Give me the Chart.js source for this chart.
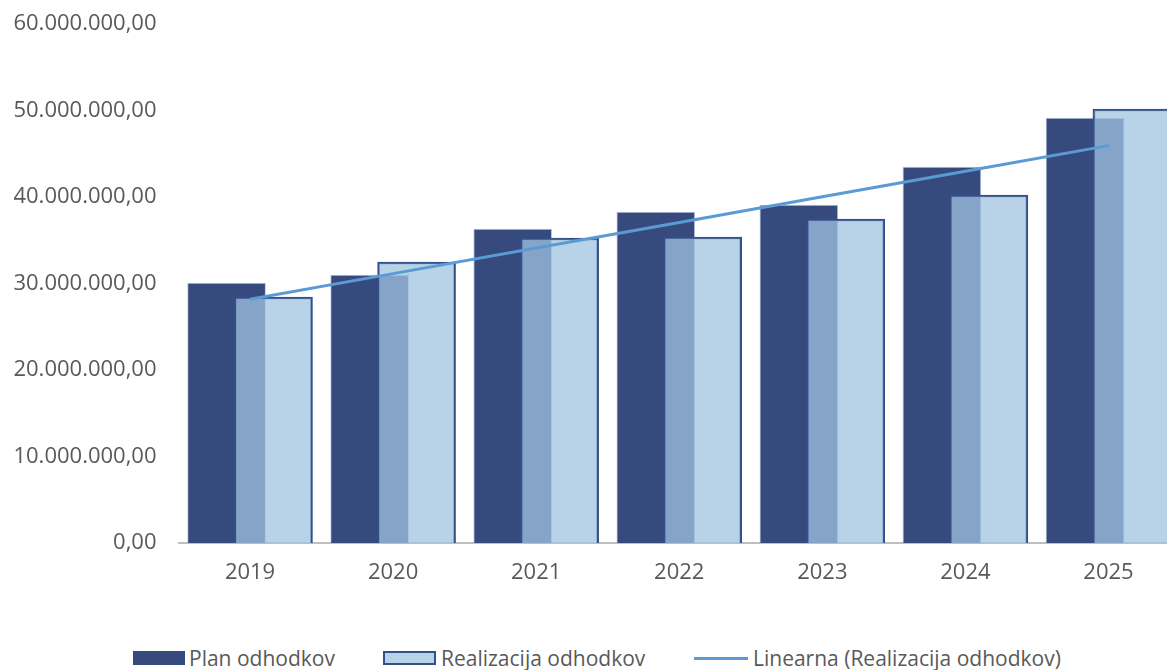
<!DOCTYPE html>
<html>
<head>
<meta charset="utf-8">
<script src="https://cdn.jsdelivr.net/npm/chart.js@4/dist/chart.umd.min.js"></script>
<style>
  html, body { margin: 0; padding: 0; background: #fff; overflow: hidden; width: 1167px; height: 670px; }
  #wrap { position: absolute; left: 0; top: 0; width: 1180px; height: 620px; }
  .leg { position: absolute; top: 645px; height: 26px; display: flex; align-items: center;
         font-family: "Open Sans", sans-serif; font-size: 21px; color: #595959; white-space: nowrap; }
  .sw { display: inline-block; box-sizing: border-box; }
</style>
</head>
<body>
<div id="wrap"><canvas id="c" width="1180" height="620"></canvas></div>
<div class="leg" style="left:133px"><span class="sw" style="width:52px;height:14px;background:#364a7e;margin-right:4px"></span>Plan odhodkov</div>
<div class="leg" style="left:383px"><span class="sw" style="width:53px;height:14px;background:#b8d2e8;border:2px solid #34508c;margin-right:5px"></span>Realizacija odhodkov</div>
<div class="leg" style="left:694px"><span class="sw" style="width:54px;height:3px;background:#5b9bd5;margin-right:5px"></span>Linearna (Realizacija odhodkov)</div>
<script>
const years = ['2019', '2020', '2021', '2022', '2023', '2024', '2025'];
const planOdhodkov = [30060000, 30980000, 36300000, 38270000, 39080000, 43470000, 49130000];
const realizacijaOdhodkov = [28440000, 32490000, 35260000, 35380000, 37460000, 40230000, 50170000];
const yTicks = [0, 10000000, 20000000, 30000000, 40000000, 50000000, 60000000];

// linear trend (least squares) of realization
const n = realizacijaOdhodkov.length;
const mx = (n - 1) / 2;
const my = realizacijaOdhodkov.reduce((a, b) => a + b, 0) / n;
let sxy = 0, sxx = 0;
realizacijaOdhodkov.forEach((v, i) => { sxy += (i - mx) * (v - my); sxx += (i - mx) * (i - mx); });
const slope = sxy / sxx;
const trend = years.map((_, i) => my + slope * (i - mx));

const OFF = 0.164;
function fmt(v) {
  const s = Math.round(v).toString().replace(/\B(?=(\d{3})+(?!\d))/g, '.');
  return s + ',00';
}

const font = { family: '"Open Sans", sans-serif', size: 22 };

new Chart(document.getElementById('c'), {
  type: 'bar',
  data: {
    datasets: [
      {
        label: 'Plan odhodkov',
        data: planOdhodkov.map((v, i) => ({ x: i - OFF, y: v })),
        backgroundColor: '#364a7e',
        borderColor: 'rgba(150,165,200,0.6)',
        borderWidth: 1,
        barThickness: 78,
        grouped: false,
        order: 2
      },
      {
        label: 'Realizacija odhodkov',
        data: realizacijaOdhodkov.map((v, i) => ({ x: i + OFF, y: v })),
        backgroundColor: 'rgba(160,195,224,0.75)',
        borderColor: '#34508c',
        borderWidth: 2,
        barThickness: 78,
        grouped: false,
        order: 1
      },
      {
        type: 'line',
        label: 'Linearna (Realizacija odhodkov)',
        data: trend.map((v, i) => ({ x: i, y: v })),
        borderColor: '#5b9bd5',
        borderWidth: 3,
        pointRadius: 0,
        fill: false,
        order: 0
      }
    ]
  },
  options: {
    responsive: false,
    animation: false,
    layout: { padding: { top: 24, right: 0, bottom: 0, left: 0 } },
    plugins: { legend: { display: false }, tooltip: { enabled: false } },
    scales: {
      x: {
        type: 'linear',
        offset: false,
        min: -0.5,
        max: 6.5,
        grid: { display: false, drawTicks: false, offset: false },
        border: { display: true, color: '#bfbfbf', width: 2 },
        afterBuildTicks: s => { s.ticks = years.map((_, i) => ({ value: i })); },
        afterFit: s => { s.height = 77; s.paddingLeft = 0; s.paddingRight = 0; },
        ticks: { font: font, color: '#595959', padding: 17, maxRotation: 0, autoSkip: false,
                 callback: v => years[v] }
      },
      y: {
        min: 0,
        max: 60000000,
        grid: { display: false, drawTicks: false },
        border: { display: false },
        afterBuildTicks: s => { s.ticks = yTicks.map(v => ({ value: v })); },
        afterFit: s => { s.width = 178.5; s.paddingTop = 0; s.paddingBottom = 0; },
        ticks: { font: font, color: '#595959', padding: 22, callback: v => fmt(v) }
      }
    }
  }
});
</script>
</body>
</html>
